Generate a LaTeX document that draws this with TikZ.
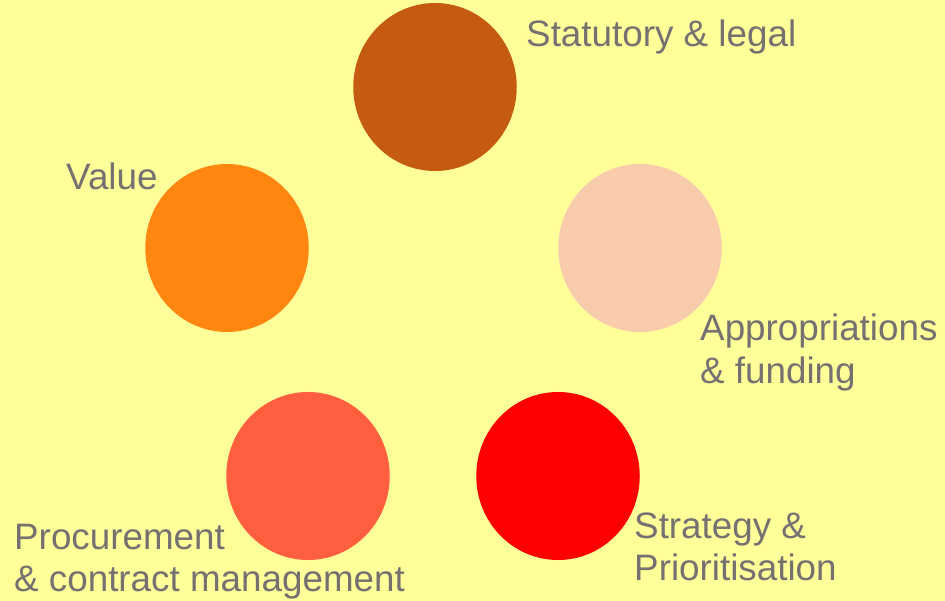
\documentclass[tikz,border=0pt]{standalone}
\usepackage{fontspec}
\setmainfont{Liberation Sans}
\usetikzlibrary{shapes.geometric}
\definecolor{bgyellow}{HTML}{FFFF99}
\definecolor{labelgray}{HTML}{767171}
\definecolor{statbrown}{HTML}{C55A11}
\definecolor{valueorange}{HTML}{FF8711}
\definecolor{fundpeach}{HTML}{F8CBAD}
\definecolor{procred}{HTML}{FF5F3F}
\definecolor{stratred}{HTML}{FF0000}
\newcommand{\twolines}[2]{\vtop{\hbox{#1}\hbox{#2}}}
\begin{document}
\begin{tikzpicture}[x=1pt, y=-1pt,
	blob/.style={ellipse, minimum width=163.5pt, minimum height=168pt, inner sep=0pt},
	caption/.style={anchor=base west, inner sep=0pt, text=labelgray, font=\fontsize{36.8}{42.5}\selectfont}]
	\fill [bgyellow] (0,0) rectangle (945,601);
	\useasboundingbox (0,0) rectangle (945,601);
	% the five areas
	\node[blob, fill=statbrown] (statutory) at (435,87) {};
	\node[blob, fill=fundpeach] (funding) at (640,248) {};
	\node[blob, fill=valueorange] (value) at (227,248) {};
	\node[blob, fill=procred] (procurement) at (308,476) {};
	\node[blob, fill=stratred] (strategy) at (558,476) {};
	% labels
	\node[caption] (statutorylabel) at (526,47) {Statutory \& legal};
	\node[caption] (fundinglabel) at (700,341) {\twolines{Appropriations}{\& funding}};
	\node[caption] (valuelabel) at (66,190) {Value};
	\node[caption] (procurementlabel) at (14,549) {\twolines{Procurement}{\& contract management}};
	\node[caption] (strategylabel) at (634,538) {\twolines{Strategy \&}{Prioritisation}};
\end{tikzpicture}
\end{document}
